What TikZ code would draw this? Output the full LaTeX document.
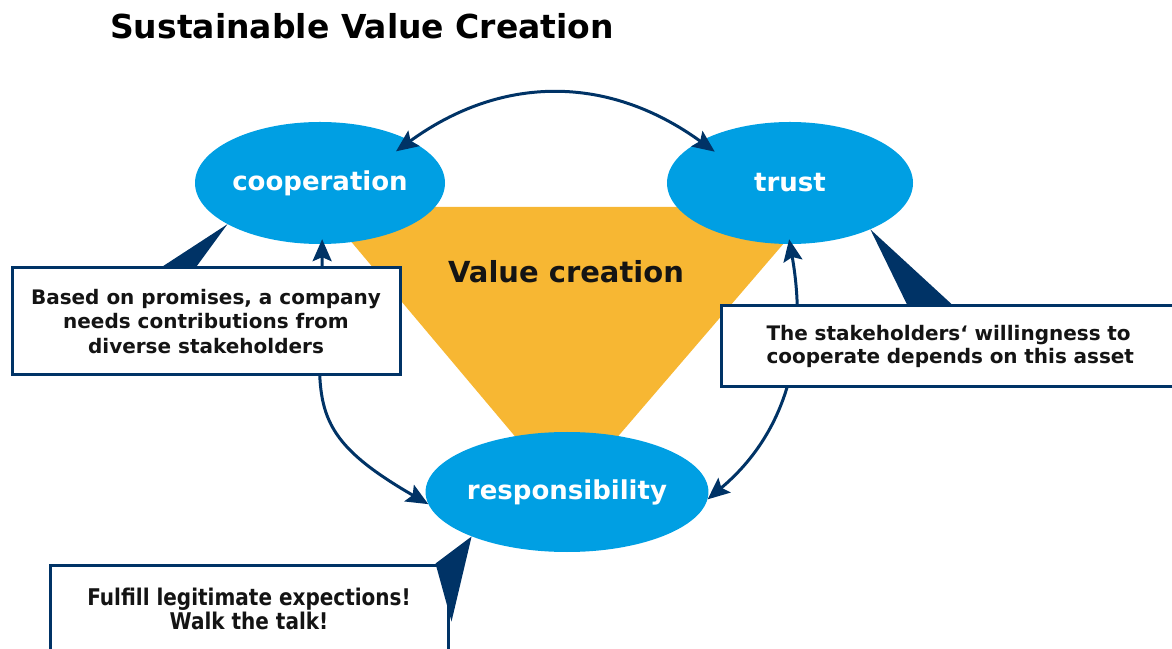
\documentclass[tikz,border=0pt]{standalone}
\usepackage{fontspec}
\setmainfont{DejaVu Sans}
\newfontfamily\narrowfont[FakeStretch=0.87]{DejaVu Sans}
\usepackage{tikz}
\usetikzlibrary{shapes.geometric, arrows.meta, positioning, calc}
\definecolor{myblue}{RGB}{0,159,227}
\definecolor{mynavy}{RGB}{0,51,102}
\definecolor{myorange}{RGB}{247,183,51}
\definecolor{mytext}{RGB}{20,20,20}
\tikzset{
  bubble/.style={ellipse, fill=myblue, text=white, minimum width=250pt,
    minimum height=122pt, inner sep=0pt, font=\fontsize{26}{30}\selectfont\bfseries},
  notebox/.style={rectangle, draw=mynavy, fill=white, line width=3pt,
    align=center, text=mytext, font=\fontsize{20}{24.5}\selectfont\bfseries},
  pointer/.style={fill=mynavy},
  link/.style={{Stealth[length=22pt,width=19pt,inset=4pt]}-{Stealth[length=22pt,width=19pt,inset=4pt]},
    line width=3pt, color=mynavy}
}

\begin{document}
\begin{tikzpicture}[x=1pt, y=1pt]
  \path[use as bounding box, clip] (0,0) rectangle (1172,648);

  \node[anchor=base west, inner sep=0pt, font=\fontsize{33}{40}\selectfont\bfseries] (title) at (110,609) {Sustainable Value Creation};

  \fill[myorange] (322,441) -- (815,441) -- (566,151) -- cycle;
  \node[font=\fontsize{29}{35}\selectfont\bfseries, text=mytext] (value) at (566,376) {Value creation};

  \node[bubble] (coop) at (320,465) {cooperation};
  \node[bubble, minimum width=246pt] (trust) at (790,465) {trust};
  \node[bubble, minimum height=120pt] (resp) at (567,156) {responsibility};

  \draw[link, shorten <=-18pt, shorten >=-18pt] (coop.25) to[out=36, in=144] (trust.155);
  \draw[link, shorten <=-5pt] (coop.-88) to[out=-90, in=150, looseness=1.4] (resp.185);
  \draw[link, shorten <=-5pt] (trust.-90) to[out=-80, in=40, looseness=1.0] (resp.-3);

  \node[notebox, minimum width=388pt, minimum height=107pt] (promise) at (206,326.5) {Based on promises, a company\\needs contributions from\\diverse stakeholders};
  \node[notebox, anchor=west, align=left, minimum width=470pt, minimum height=81pt,
    inner xsep=44pt, text width=380pt, font=\fontsize{20}{23.5}\selectfont\bfseries] (asset) at (720,301.5) {The stakeholders‘ willingness to\\cooperate depends on this asset};
  \node[notebox, minimum width=398pt, minimum height=87pt,
    font=\narrowfont\fontsize{23}{24}\selectfont\bfseries] (walk) at (249,39.5) {Fulfill legitimate expections!\\Walk the talk!};

  \fill[pointer] (coop.204) -- ([xshift=152pt]promise.north west) -- ([xshift=186pt]promise.north west) -- cycle;
  \fill[pointer] (trust.-30) -- ([xshift=187pt]asset.north west) -- ([xshift=232pt]asset.north west) -- cycle;
  \fill[pointer] (resp.205) -- ([xshift=-14pt]walk.north east) -- ([xshift=2pt,yshift=-58pt]walk.north east) -- cycle;
\end{tikzpicture}
\end{document}
